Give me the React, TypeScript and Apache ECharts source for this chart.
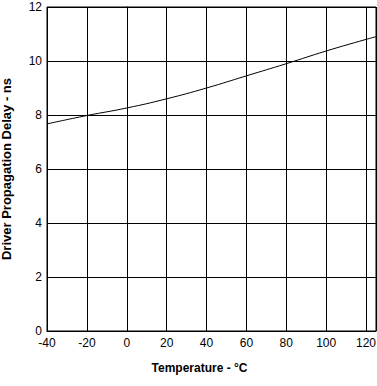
import React, { useEffect, useRef } from "react";
import * as echarts from "echarts";

const temperatures = [-40, -20, 0, 20, 40, 60, 80, 100, 120, 125];
const delays = [7.67, 7.98, 8.26, 8.6, 9.0, 9.45, 9.9, 10.37, 10.8, 10.9];
const xTicks = [-40, -20, 0, 20, 40, 60, 80, 100, 120];

export default function App() {
  const ref = useRef<HTMLDivElement>(null);
  useEffect(() => {
    const chart = echarts.init(ref.current!, null, { renderer: "svg" });
    chart.setOption({
      animation: false,
      grid: {
        left: 47,
        right: 1,
        top: 7,
        bottom: 55,
        show: true,
        containLabel: false,
        outerBoundsMode: "none",
        borderColor: "#000",
        borderWidth: 1,
        backgroundColor: "transparent",
      },
      xAxis: {
        type: "value",
        min: -40,
        max: 125,
        interval: 20,
        name: "Temperature - °C",
        nameLocation: "middle",
        nameGap: 31,
        nameTextStyle: {
          fontFamily: "Liberation Sans",
          fontSize: 12,
          fontWeight: "bold",
          color: "#000",
          padding: [0, 24, 0, 0],
        },
        axisLine: { show: true, lineStyle: { color: "#000", width: 1 } },
        axisTick: { show: false },
        axisLabel: {
          fontFamily: "Liberation Sans",
          fontSize: 12,
          color: "#000",
          margin: 6,
          formatter: (v: number) => (xTicks.includes(v) ? String(v) : ""),
        },
        splitLine: { show: true, lineStyle: { color: "#000", width: 1 } },
      },
      yAxis: {
        type: "value",
        min: 0,
        max: 12,
        interval: 2,
        name: "Driver Propagation Delay - ns",
        nameLocation: "middle",
        nameGap: 34,
        nameTextStyle: { fontFamily: "Liberation Sans", fontSize: 13, fontWeight: "bold", color: "#000" },
        axisLine: { show: true, lineStyle: { color: "#000", width: 1 } },
        axisTick: { show: false },
        axisLabel: { fontFamily: "Liberation Sans", fontSize: 12, color: "#000", margin: 5 },
        splitLine: { show: true, lineStyle: { color: "#000", width: 1 } },
      },
      series: [
        {
          type: "line",
          data: temperatures.map((t, i) => [t, delays[i]]),
          smooth: true,
          symbol: "none",
          lineStyle: { color: "#000", width: 1 },
        },
      ],
    });
    return () => chart.dispose();
  }, []);
  return <div ref={ref} style={{ width: 377, height: 386, position: "absolute", left: 0, top: 0 }} />;
}
